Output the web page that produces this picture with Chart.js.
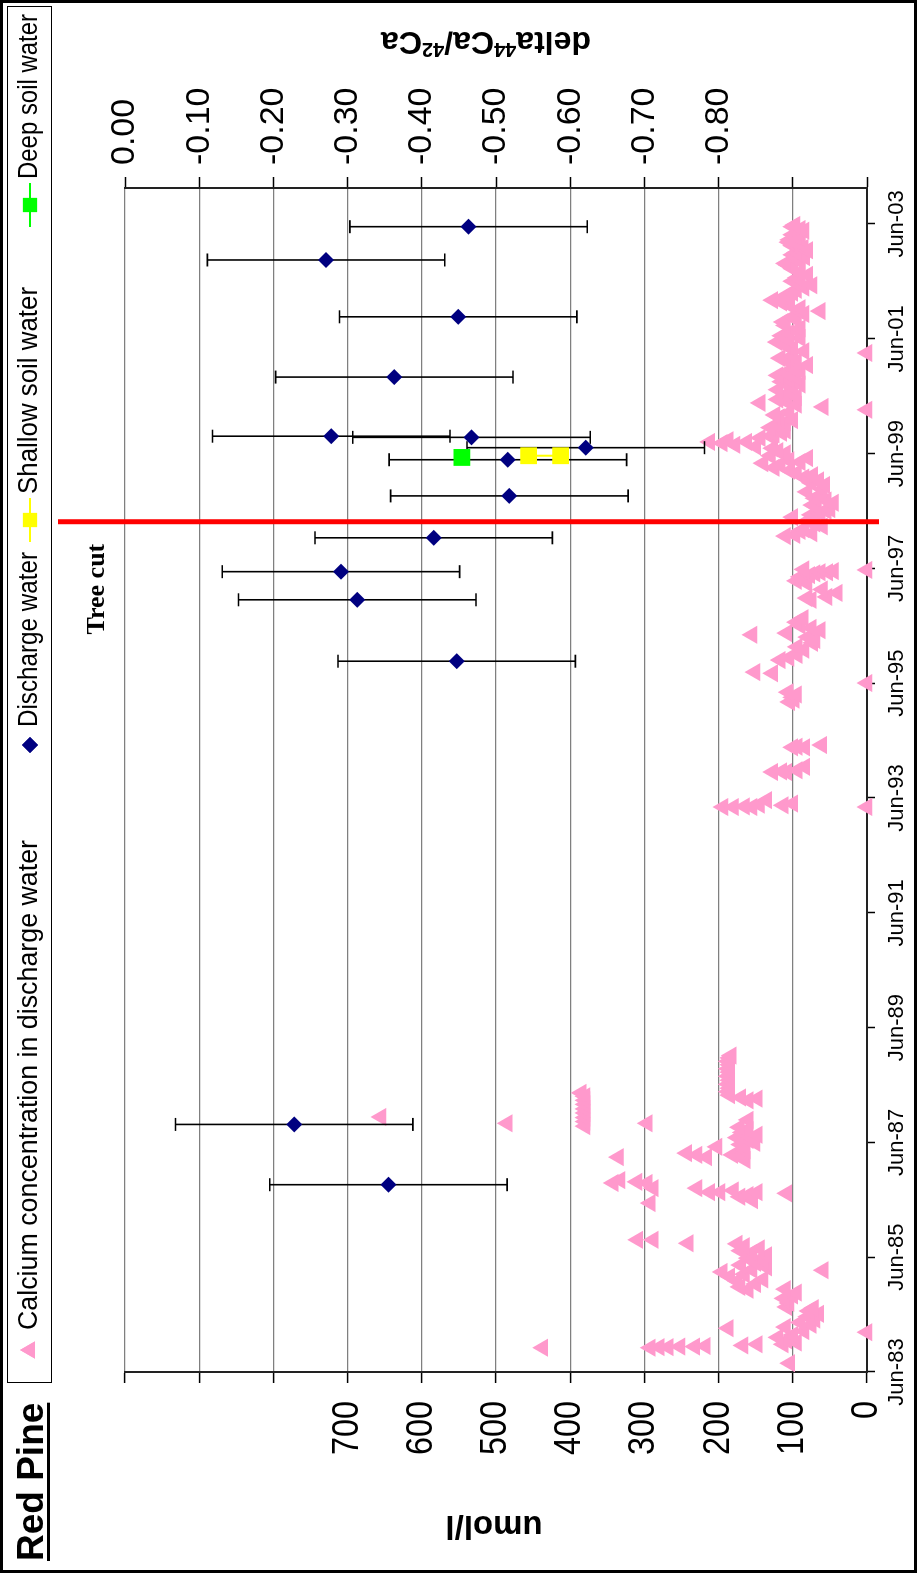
<!DOCTYPE html>
<html>
<head>
<meta charset="utf-8">
<title>Red Pine</title>
<script src="https://cdn.jsdelivr.net/npm/chart.js@4.4.1/dist/chart.umd.min.js"></script>
<style>
  html, body { margin: 0; padding: 0; background: #ffffff; }
  #page { position: relative; width: 917px; height: 1573px; overflow: hidden; background: #ffffff; }
  /* the chart is laid out landscape and turned a quarter turn anticlockwise */
  #wrap { position: absolute; left: 0; top: 0; width: 1573px; height: 917px;
          transform-origin: 0 0; transform: translateY(1573px) rotate(-90deg); }
  canvas { display: block; }
</style>
</head>
<body>
<div id="page"><div id="wrap"><canvas id="chart" width="1573" height="917"></canvas></div></div>
<script>
// ---- time axis (decimal years) ----
const xTickDates  = [1983.417, 1985.417, 1987.417, 1989.417, 1991.417, 1993.417, 1995.417, 1997.417, 1999.417, 2001.417, 2003.417];
const xTickLabels = ['Jun-83', 'Jun-85', 'Jun-87', 'Jun-89', 'Jun-91', 'Jun-93', 'Jun-95', 'Jun-97', 'Jun-99', 'Jun-01', 'Jun-03'];
const umolTickLabels  = [0, 100, 200, 300, 400, 500, 600, 700];
const deltaTickLabels = [0, -0.1, -0.2, -0.3, -0.4, -0.5, -0.6, -0.7, -0.8];

// ---- calcium concentration in discharge water (umol/l) ----
const calciumDates = [
  // 1983 - 1985
  1983.57, 1983.84, 1983.84, 1983.85, 1983.85, 1983.86, 1983.86, 1983.87, 1983.88, 1983.90,
  1983.90, 1983.93, 1983.97, 1984.02, 1984.06, 1984.11, 1984.13, 1984.18, 1984.20, 1984.24,
  1984.28, 1984.33, 1984.38, 1984.43, 1984.48, 1984.53, 1984.55, 1984.62, 1984.70, 1984.75,
  1984.80, 1984.85, 1984.86, 1984.90, 1984.95, 1985.00, 1985.03, 1985.08, 1985.12, 1985.16,
  1985.19, 1985.20, 1985.24, 1985.28, 1985.32, 1985.36, 1985.40, 1985.45, 1985.49, 1985.53,
  1985.57, 1985.61, 1985.65, 1985.66, 1985.72, 1985.72,
  // 1986 - 1988
  1986.36, 1986.41, 1986.47, 1986.50, 1986.53, 1986.55, 1986.55, 1986.55, 1986.58, 1986.62,
  1986.62, 1986.71, 1986.71, 1986.73, 1986.76,
  1987.11, 1987.16, 1987.16, 1987.20, 1987.20, 1987.20, 1987.23, 1987.28, 1987.34, 1987.38,
  1987.41, 1987.46, 1987.50, 1987.55, 1987.59, 1987.63, 1987.68, 1987.70, 1987.75, 1987.75,
  1987.78, 1987.81, 1987.85, 1987.86, 1987.93, 1988.00, 1988.08, 1988.15, 1988.15, 1988.18,
  1988.20, 1988.22, 1988.24, 1988.28, 1988.30, 1988.36, 1988.43, 1988.50, 1988.57, 1988.64,
  1988.70, 1988.77, 1988.83, 1988.89, 1988.93,
  // 1993 - 1997
  1993.26, 1993.26, 1993.26, 1993.26, 1993.27, 1993.29, 1993.30, 1993.32, 1993.38, 1993.87,
  1993.87, 1993.88, 1993.90, 1993.96, 1994.30, 1994.30, 1994.31, 1994.34, 1995.09, 1995.13,
  1995.17, 1995.22, 1995.26, 1995.42, 1995.59, 1995.61, 1995.82, 1995.86, 1995.91, 1996.00,
  1996.05, 1996.12, 1996.17, 1996.22, 1996.26, 1996.29, 1996.34, 1996.38, 1996.42, 1996.48,
  1996.55, 1996.87, 1996.90, 1996.92, 1996.99, 1997.05, 1997.16, 1997.20, 1997.27, 1997.30,
  1997.33, 1997.35, 1997.35, 1997.37, 1997.39, 1997.40,
  // 1998 - 2003
  1997.98, 1998.00, 1998.03, 1998.07, 1998.10, 1998.15, 1998.20, 1998.25, 1998.31, 1998.35,
  1998.38, 1998.42, 1998.45, 1998.49, 1998.52, 1998.56, 1998.60, 1998.64, 1998.70, 1998.75,
  1998.80, 1998.87, 1998.91, 1998.95, 1999.00, 1999.04, 1999.08, 1999.12, 1999.17, 1999.22,
  1999.25, 1999.27, 1999.30, 1999.34, 1999.38, 1999.42, 1999.46, 1999.51, 1999.54, 1999.57,
  1999.60, 1999.62, 1999.62, 1999.65, 1999.69, 1999.72, 1999.75, 1999.78, 1999.82, 1999.87,
  1999.92, 1999.96, 2000.00, 2000.05, 2000.09, 2000.13, 2000.18, 2000.23, 2000.27, 2000.30,
  2000.32, 2000.36, 2000.40, 2000.44, 2000.49, 2000.53, 2000.58, 2000.62, 2000.67, 2000.71,
  2000.75, 2000.78, 2000.82, 2000.86, 2000.90, 2000.96, 2001.02, 2001.05, 2001.08, 2001.12,
  2001.17, 2001.20, 2001.25, 2001.30, 2001.36, 2001.40, 2001.43, 2001.47, 2001.52, 2001.56,
  2001.60, 2001.65, 2001.71, 2001.75, 2001.80, 2001.85, 2001.90, 2001.95, 2002.00, 2002.05,
  2002.09, 2002.13, 2002.18, 2002.22, 2002.27, 2002.31, 2002.35, 2002.39, 2002.42, 2002.48,
  2002.53, 2002.58, 2002.64, 2002.70, 2002.73, 2002.77, 2002.80, 2002.84, 2002.88, 2002.92,
  2002.96, 2003.00, 2003.04, 2003.07, 2003.10, 2003.14, 2003.17, 2003.20, 2003.23, 2003.26,
  2003.30, 2003.33, 2003.37, 2003.40
];
const calciumValues = [
  // 1983 - 1985
  104, 437, 292, 280, 268, 252, 232, 218, 167, 148,
  113, 95, 108, 120, 100, 0, 85, 187, 110, 75,
  90, 70, 80, 65, 78, 72, 108, 105, 112, 100,
  95, 160, 110, 171, 150, 175, 140, 185, 165, 195,
  59, 155, 135, 170, 150, 140, 160, 135, 155, 170,
  145, 165, 175, 241, 309, 288,
  // 1986 - 1988
  292, 154, 171, 160, 108, 212, 198, 148, 180, 288,
  229, 342, 296, 310, 333,
  164, 335, 216, 229, 181, 167, 243, 164, 202, 170,
  151, 160, 175, 148, 168, 160, 172, 380, 296, 485,
  380, 160, 380, 655, 380, 380, 380, 380, 160, 148,
  170, 380, 185, 385, 187, 185, 187, 185, 187, 185,
  187, 185, 187, 185, 183,
  // 1993 - 1997
  194, 180, 155, 0, 165, 113, 145, 100, 135, 127,
  108, 115, 94, 84, 84, 100, 94, 61, 104, 98,
  100, 95, 106, 0, 127, 151, 117, 105, 94, 85,
  94, 73, 70, 80, 155, 108, 63, 75, 90, 95,
  86, 75, 81, 54, 40, 60, 81, 95, 90, 77,
  70, 63, 53, 45, 0, 85,
  // 1998 - 2003
  110, 97, 74, 90, 85, 60, 70, 80, 100, 75,
  63, 55, 50, 68, 73, 45, 55, 70, 63, 81,
  60, 57, 75, 65, 85, 73, 95, 104, 125, 117,
  140, 90, 105, 80, 130, 110, 120, 127, 150, 178,
  195, 212, 162, 187, 144, 130, 125, 115, 110, 130,
  121, 110, 100, 118, 124, 105, 0, 59, 95, 144,
  108, 120, 95, 110, 104, 120, 100, 90, 115, 105,
  95, 120, 108, 90, 100, 80, 95, 110, 117, 100,
  0, 85, 100, 110, 121, 105, 90, 115, 105, 95,
  90, 110, 113, 95, 100, 85, 63, 90, 104, 115,
  127, 110, 108, 100, 95, 85, 74, 90, 100, 94,
  80, 90, 100, 106, 110, 90, 95, 84, 100, 95,
  80, 86, 100, 90, 105, 104, 90, 95, 100, 93,
  85, 90, 100, 97
];

// ---- delta 44Ca/42Ca ----
const dischargeDates = [1986.68, 1987.73, 1995.80, 1996.87, 1997.36, 1997.95, 1998.68, 1999.31, 1999.52, 1999.70, 1999.72, 2000.75, 2001.80, 2002.79, 2003.37];
const dischargeDelta = [-0.355, -0.228, -0.447, -0.313, -0.291, -0.416, -0.518, -0.516, -0.621, -0.467, -0.278, -0.363, -0.449, -0.271, -0.463];
const dischargeError = [0.16, 0.16, 0.16, 0.16, 0.16, 0.16, 0.16, 0.16, 0.16, 0.16, 0.16, 0.16, 0.16, 0.16, 0.16];
const shallowDates = [1999.38, 1999.38];
const shallowDelta = [-0.544, -0.587];
const deepDates = [1999.35];
const deepDelta = [-0.454];

const treeCutDate = 1998.23;

const seriesNames = ['Calcium concentration in discharge water', 'Discharge water', 'Shallow soil water', 'Deep soil water'];

// ---- look ----
const PINK = '#FF99CC', NAVY = '#000080', YELLOW = '#FFFF00', GREEN = '#00FF00';
const SANS = '"Liberation Sans", Arial, sans-serif';
const SERIF = '"Liberation Serif", "Times New Roman", serif';

const pairs = (xs, ys) => xs.map((x, i) => ({ x: x, y: ys[i] }));

// fillText with optional horizontal squeeze (sx) or a fitted width (fit)
function text(ctx, s, x, y, o) {
  ctx.save();
  ctx.font = o.font;
  let sx = o.sx || 1;
  if (o.fit) sx = o.fit / ctx.measureText(s).width;
  ctx.translate(x, y);
  if (o.rot) ctx.rotate(o.rot);
  ctx.scale(sx, 1);
  ctx.fillStyle = o.color || '#000';
  ctx.textAlign = o.align || 'left';
  ctx.textBaseline = o.baseline || 'middle';
  ctx.fillText(s, 0, 0);
  const w = ctx.measureText(s).width * sx;
  ctx.restore();
  return w;
}

const decor = {
  id: 'decor',
  beforeDraw(chart) {
    const ctx = chart.ctx;
    ctx.save();
    ctx.fillStyle = '#fff';
    ctx.fillRect(0, 0, chart.width, chart.height);
    ctx.restore();
  },
  beforeDatasetDraw(chart, args) {
    if (args.index !== 1) return;
    const ctx = chart.ctx, xs = chart.scales.x, ys = chart.scales.yR;
    ctx.save();
    ctx.strokeStyle = '#000';
    ctx.lineWidth = 1.6;
    dischargeDates.forEach((d, i) => {
      const px = xs.getPixelForValue(d);
      const top = ys.getPixelForValue(dischargeDelta[i] + dischargeError[i]);
      const bot = ys.getPixelForValue(dischargeDelta[i] - dischargeError[i]);
      ctx.beginPath();
      ctx.moveTo(px, top); ctx.lineTo(px, bot);
      ctx.moveTo(px - 6.5, top); ctx.lineTo(px + 6.5, top);
      ctx.moveTo(px - 6.5, bot); ctx.lineTo(px + 6.5, bot);
      ctx.stroke();
    });
    ctx.restore();
  },
  afterDatasetsDraw(chart) {
    const ctx = chart.ctx;
    const px = chart.scales.x.getPixelForValue(treeCutDate);
    ctx.save();
    ctx.strokeStyle = '#FF0000';
    ctx.lineWidth = 5;
    ctx.beginPath();
    ctx.moveTo(px, 58); ctx.lineTo(px, 879);
    ctx.stroke();
    text(ctx, 'Tree cut', px - 22, 97, { font: 'bold 26px ' + SERIF, align: 'right' });
    ctx.restore();
  },
  afterDraw(chart) {
    const ctx = chart.ctx;
    const xs = chart.scales.x, yl = chart.scales.yL, yr = chart.scales.yR;

    // tick labels
    xTickDates.forEach((d, i) => {
      text(ctx, xTickLabels[i], xs.getPixelForValue(d), 897, { font: '22px ' + SANS, align: 'center' });
    });
    umolTickLabels.forEach(v => {
      text(ctx, String(v), 172, yl.getPixelForValue(v), { font: '36px ' + SANS, align: 'right', sx: 0.9 });
    });
    deltaTickLabels.forEach(v => {
      text(ctx, v.toFixed(2), 1408, yr.getPixelForValue(v), { font: '34px ' + SANS, align: 'left' });
    });

    // axis titles
    text(ctx, 'umol/l', 48, 494, { font: 'bold 33px ' + SANS, align: 'center', rot: -Math.PI / 2 });
    ctx.save();
    ctx.translate(1530, 486);
    ctx.rotate(-Math.PI / 2);
    const parts = [['delta', 32, 0], ['44', 20, -11], ['Ca/', 32, 0], ['42', 20, -11], ['Ca', 32, 0]];
    let total = 0;
    parts.forEach(p => { ctx.font = 'bold ' + p[1] + 'px ' + SANS; total += ctx.measureText(p[0]).width; });
    let cx = -total / 2;
    parts.forEach(p => {
      ctx.font = 'bold ' + p[1] + 'px ' + SANS;
      ctx.fillStyle = '#000';
      ctx.textBaseline = 'alphabetic';
      ctx.textAlign = 'left';
      ctx.fillText(p[0], cx, 11 + p[2]);
      cx += ctx.measureText(p[0]).width;
    });
    ctx.restore();

    // chart title
    const tw = text(ctx, 'Red Pine', 12, 43, { font: 'bold 37px ' + SANS, baseline: 'alphabetic' });
    ctx.save();
    ctx.fillStyle = '#000';
    ctx.fillRect(12, 47, tw, 3);
    ctx.restore();

    // legend
    ctx.save();
    ctx.strokeStyle = '#000';
    ctx.lineWidth = 1;
    ctx.strokeRect(190.5, 7.5, 1376, 44);
    const ly = 30;
    const drawPoint = Chart.helpers.drawPoint;
    const lf = '27px ' + SANS;
    ctx.fillStyle = PINK;
    drawPoint(ctx, { pointStyle: 'triangle', radius: 10, borderWidth: 0, rotation: 0 }, 223, ly);
    ctx.fill();
    text(ctx, seriesNames[0], 243, ly, { font: lf, fit: 490 });
    ctx.fillStyle = NAVY;
    drawPoint(ctx, { pointStyle: 'rectRot', radius: 8, borderWidth: 0, rotation: 0 }, 828, ly);
    ctx.fill();
    text(ctx, seriesNames[1], 846, ly, { font: lf, fit: 175 });
    [[1053, YELLOW, seriesNames[2], 207], [1368, GREEN, seriesNames[3], 165]].forEach(e => {
      ctx.strokeStyle = e[1]; ctx.lineWidth = 2;
      ctx.beginPath(); ctx.moveTo(e[0] - 22, ly); ctx.lineTo(e[0] + 22, ly); ctx.stroke();
      ctx.fillStyle = e[1];
      drawPoint(ctx, { pointStyle: 'rect', radius: 10, borderWidth: 0, rotation: 0 }, e[0], ly);
      ctx.fill();
      text(ctx, e[2], e[0] + 26, ly, { font: lf, fit: e[3] });
    });
    ctx.restore();

    // outer frame
    ctx.save();
    ctx.strokeStyle = '#000';
    ctx.lineWidth = 3;
    ctx.strokeRect(1.5, 1.5, chart.width - 3, chart.height - 3);
    ctx.restore();
  }
};

new Chart(document.getElementById('chart'), {
  type: 'scatter',
  data: {
    datasets: [
      { label: seriesNames[0], data: pairs(calciumDates, calciumValues), yAxisID: 'yL', order: 4,
        pointStyle: 'triangle', pointRadius: 10.5, backgroundColor: PINK, borderColor: PINK, borderWidth: 0, clip: false },
      { label: seriesNames[1], data: pairs(dischargeDates, dischargeDelta), yAxisID: 'yR', order: 3,
        pointStyle: 'rectRot', pointRadius: 8, backgroundColor: NAVY, borderColor: NAVY, borderWidth: 0, clip: false },
      { label: seriesNames[2], data: pairs(shallowDates, shallowDelta), yAxisID: 'yR', order: 2, showLine: true,
        pointStyle: 'rect', pointRadius: 10.5, backgroundColor: YELLOW, borderColor: YELLOW, borderWidth: 2, clip: false },
      { label: seriesNames[3], data: pairs(deepDates, deepDelta), yAxisID: 'yR', order: 1, showLine: true,
        pointStyle: 'rect', pointRadius: 10.5, backgroundColor: GREEN, borderColor: GREEN, borderWidth: 2, clip: false }
    ]
  },
  options: {
    responsive: false,
    animation: false,
    devicePixelRatio: 1,
    layout: { padding: { top: 125, left: 0, right: 0, bottom: 0 } },
    plugins: { legend: { display: false }, tooltip: { enabled: false }, title: { display: false } },
    elements: { point: { hoverRadius: 0 } },
    scales: {
      x: {
        type: 'linear', position: 'bottom', min: 1983.417, max: 2004.044,
        afterBuildTicks: s => { s.ticks = xTickDates.map(v => ({ value: v })); },
        afterFit: s => { s.height = 50; },
        ticks: { display: false },
        grid: { drawOnChartArea: false, drawTicks: true, tickLength: 8, tickColor: '#000', tickWidth: 1.5 },
        border: { display: true, color: '#222', width: 2 }
      },
      yL: {
        type: 'linear', position: 'left', min: 0, max: 1000,
        ticks: { display: false, stepSize: 100 },
        afterFit: s => { s.width = 201; },
        grid: { color: '#7f7f7f', lineWidth: 1.2, drawTicks: true, tickLength: 11, tickColor: '#000', tickWidth: 1.5 },
        border: { display: true, color: '#222', width: 2 }
      },
      yR: {
        type: 'linear', position: 'right', min: -1, max: 0,
        ticks: { display: false, stepSize: 0.1 },
        afterFit: s => { s.width = 188; },
        grid: { drawOnChartArea: false, drawTicks: true, tickLength: 11, tickColor: '#000', tickWidth: 1.5 },
        border: { display: true, color: '#222', width: 2 }
      }
    }
  },
  plugins: [decor]
});
</script>
</body>
</html>
